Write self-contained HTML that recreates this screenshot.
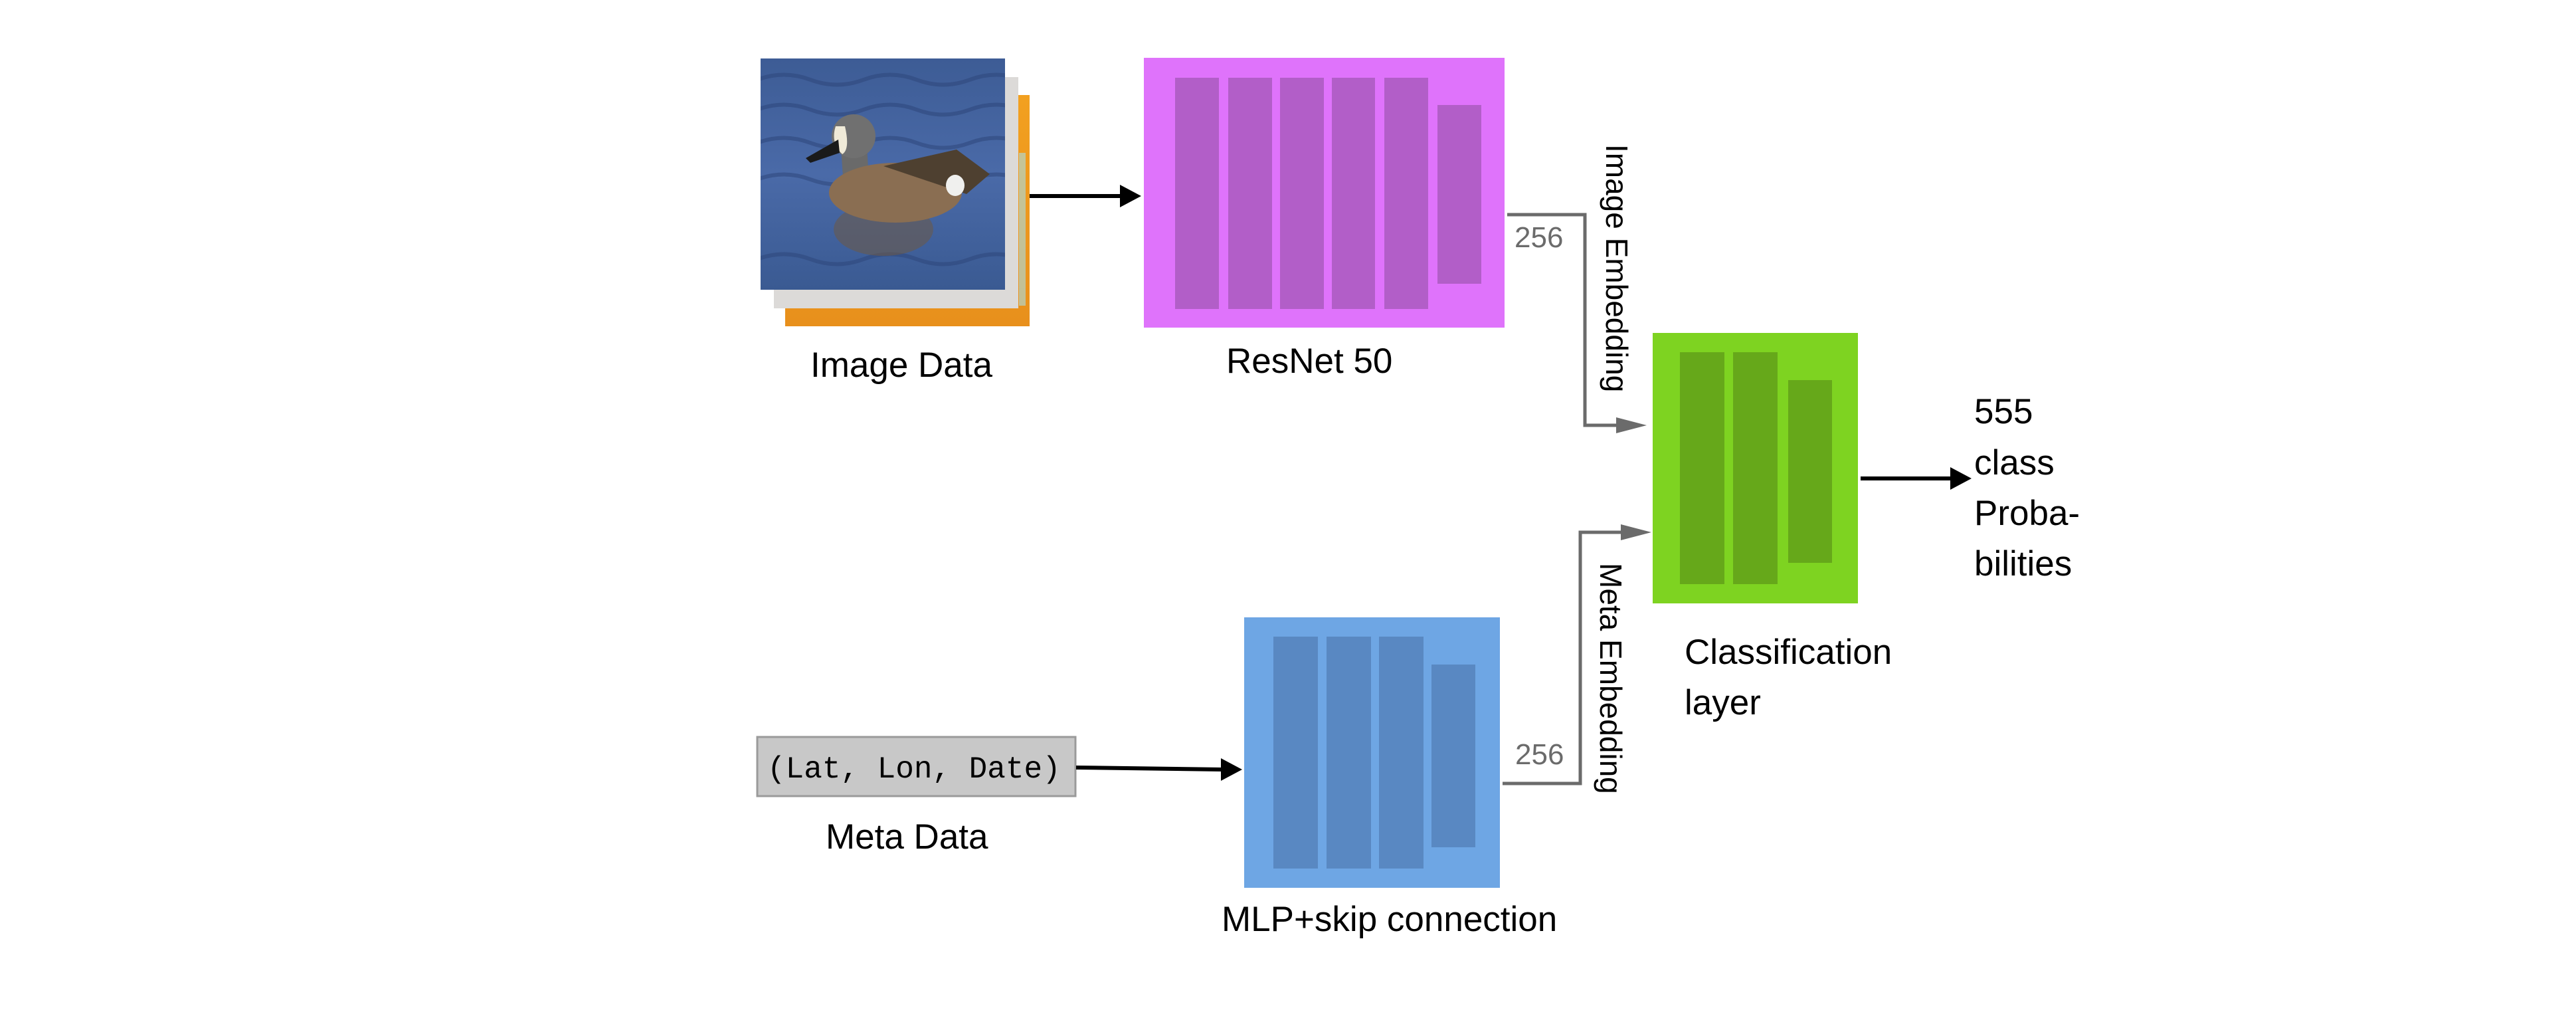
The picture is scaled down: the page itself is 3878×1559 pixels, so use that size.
<!DOCTYPE html>
<html><head><meta charset="utf-8"><style>
html,body{margin:0;padding:0;background:#fff;}
svg{display:block;}
text{font-family:"Liberation Sans",Arial,sans-serif;}
</style></head><body>
<svg width="3878" height="1559" viewBox="0 0 3878 1559" xmlns="http://www.w3.org/2000/svg">
<defs>
<linearGradient id="water" x1="0" y1="0" x2="0" y2="1">
<stop offset="0" stop-color="#3d5c95"/><stop offset="0.5" stop-color="#4a6aa8"/><stop offset="1" stop-color="#3a5a92"/>
</linearGradient>
<linearGradient id="orange" x1="0" y1="0" x2="0" y2="1">
<stop offset="0" stop-color="#f2a020"/><stop offset="1" stop-color="#e8901c"/>
</linearGradient>
<clipPath id="imgclip"><rect x="1145" y="88" width="368" height="348"/></clipPath>
</defs>
<!-- image stack -->
<rect x="1182" y="143" width="368" height="348" fill="url(#orange)"/>
<rect x="1534" y="230" width="10" height="230" fill="#a8e0e8" opacity="0.6"/>
<rect x="1165" y="116" width="368" height="348" fill="#dcdad8"/>
<rect x="1145" y="88" width="368" height="348" fill="url(#water)"/>
<g clip-path="url(#imgclip)">
<g stroke="#2c4478" stroke-width="6" fill="none" opacity="0.5">
<path d="M1140 120 q40 -15 80 0 t80 0 t80 0 t80 0 t80 0"/>
<path d="M1140 165 q40 -15 80 0 t80 0 t80 0 t80 0 t80 0"/>
<path d="M1140 215 q40 -15 80 0 t80 0 t80 0 t80 0 t80 0"/>
<path d="M1140 270 q40 -15 80 0 t80 0 t80 0 t80 0 t80 0"/>
<path d="M1140 390 q40 -15 80 0 t80 0 t80 0 t80 0 t80 0"/>
</g>
<!-- duck reflection -->
<ellipse cx="1330" cy="345" rx="75" ry="40" fill="#6e5a44" opacity="0.55"/>
<!-- neck -->
<path d="M1265 200 Q1268 260 1272 300 L1310 300 L1305 220 Z" fill="#6a6a6a"/>
<!-- body -->
<ellipse cx="1348" cy="290" rx="100" ry="45" fill="#8a6e52"/>
<path d="M1330 250 L1440 225 L1490 262 L1455 292 Z" fill="#4e4030"/>
<ellipse cx="1438" cy="279" rx="14" ry="16" fill="#f0f0ee"/>
<!-- head -->
<circle cx="1285" cy="205" r="33" fill="#707070"/>
<path d="M1258 190 Q1250 215 1268 232 Q1280 225 1272 190 Z" fill="#f0ead8"/>
<path d="M1262 210 L1213 238 L1220 245 L1264 230 Z" fill="#1a1a1a"/>
</g>
<!-- arrow image -> resnet -->
<line x1="1550" y1="295" x2="1690" y2="295" stroke="#000" stroke-width="6"/>
<polygon points="1718,295 1686,278 1686,312" fill="#000"/>
<!-- ResNet -->
<rect x="1722" y="87" width="543" height="406" fill="#df73fb"/>
<g fill="#b25ec8">
<rect x="1769" y="117" width="66" height="348"/>
<rect x="1849" y="117" width="66" height="348"/>
<rect x="1927" y="117" width="66" height="348"/>
<rect x="2005" y="117" width="65" height="348"/>
<rect x="2084" y="117" width="66" height="348"/>
<rect x="2164" y="158" width="66" height="269"/>
</g>
<!-- image embedding connector -->
<polyline points="2269,323 2386,323 2386,640 2440,640" fill="none" stroke="#6b6b6b" stroke-width="5"/>
<polygon points="2479,640 2433,628 2433,652" fill="#6b6b6b"/>
<text x="2280" y="372" font-size="44" fill="#6b6b6b">256</text>
<text transform="translate(2418,217) rotate(90)" font-size="46" fill="#000">Image Embedding</text>
<!-- green -->
<rect x="2488" y="501" width="309" height="407" fill="#7ed321"/>
<g fill="#66a81a">
<rect x="2529" y="530" width="67" height="349"/>
<rect x="2609" y="530" width="67" height="349"/>
<rect x="2692" y="572" width="66" height="275"/>
</g>
<!-- output arrow -->
<line x1="2801" y1="720" x2="2940" y2="720" stroke="#000" stroke-width="6"/>
<polygon points="2968,720 2936,703 2936,737" fill="#000"/>
<text font-size="53" fill="#000"><tspan x="2972" y="637">555</tspan><tspan x="2972" y="714">class</tspan><tspan x="2972" y="790">Proba-</tspan><tspan x="2972" y="866">bilities</tspan></text>
<text font-size="53" fill="#000"><tspan x="2536" y="999">Classification</tspan><tspan x="2536" y="1075">layer</tspan></text>
<!-- blue MLP -->
<rect x="1873" y="929" width="385" height="407" fill="#6ea6e4"/>
<g fill="#5988c2">
<rect x="1917" y="958" width="67" height="349"/>
<rect x="1997" y="958" width="67" height="349"/>
<rect x="2076" y="958" width="67" height="349"/>
<rect x="2155" y="1000" width="66" height="275"/>
</g>
<!-- meta embedding connector -->
<polyline points="2262,1179 2379,1179 2379,801 2447,801" fill="none" stroke="#6b6b6b" stroke-width="5"/>
<polygon points="2486,801 2440,789 2440,813" fill="#6b6b6b"/>
<text x="2281" y="1150" font-size="44" fill="#6b6b6b">256</text>
<text transform="translate(2409,847) rotate(90)" font-size="46" fill="#000">Meta Embedding</text>
<!-- meta box -->
<rect x="1140" y="1109" width="479" height="89" fill="#c8c8c8" stroke="#9a9a9a" stroke-width="3"/>
<text x="1155" y="1170" font-size="46" fill="#000" style="font-family:'Liberation Mono',monospace">(Lat, Lon, Date)</text>
<line x1="1620" y1="1155" x2="1842" y2="1158" stroke="#000" stroke-width="6"/>
<polygon points="1870,1158 1838,1141 1838,1175" fill="#000"/>
<!-- labels -->
<text x="1220" y="567" font-size="53" fill="#000">Image Data</text>
<text x="1846" y="561" font-size="53" fill="#000">ResNet 50</text>
<text x="1243" y="1277" font-size="53" fill="#000">Meta Data</text>
<text x="1839" y="1401" font-size="53" fill="#000">MLP+skip connection</text>
</svg>
</body></html>
